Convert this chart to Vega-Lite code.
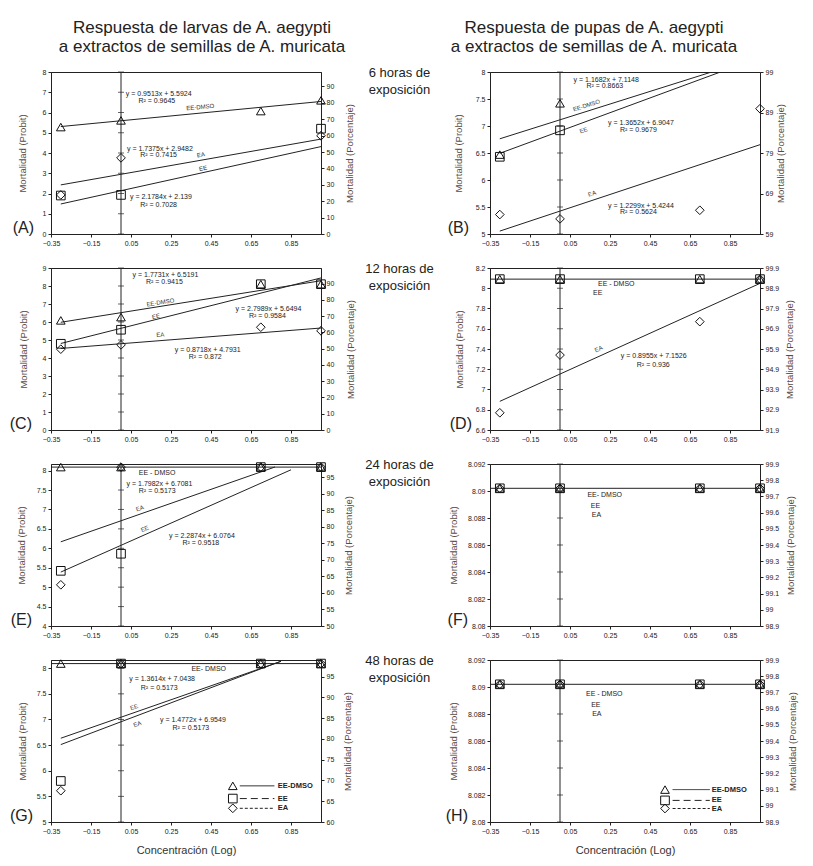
{
"$schema": "https://vega.github.io/schema/vega-lite/v6.json",
"background": "white",
"padding": {"left": 9, "top": 18, "right": 5, "bottom": 5},
"columns": 3,
"bounds": "flush",
"align": "each",
"spacing": {"row": 34, "column": 54},
"datasets": {
"yt": [
{"p":"A","y":0},{"p":"A","y":1},{"p":"A","y":2},{"p":"A","y":3},{"p":"A","y":4},{"p":"A","y":5},{"p":"A","y":6},{"p":"A","y":7},{"p":"A","y":8},
{"p":"B","y":5},{"p":"B","y":5.5},{"p":"B","y":6},{"p":"B","y":6.5},{"p":"B","y":7},{"p":"B","y":7.5},{"p":"B","y":8},
{"p":"C","y":0},{"p":"C","y":1},{"p":"C","y":2},{"p":"C","y":3},{"p":"C","y":4},{"p":"C","y":5},{"p":"C","y":6},{"p":"C","y":7},{"p":"C","y":8},{"p":"C","y":9},
{"p":"D","y":6.6},{"p":"D","y":6.8},{"p":"D","y":7},{"p":"D","y":7.2},{"p":"D","y":7.4},{"p":"D","y":7.6},{"p":"D","y":7.8},{"p":"D","y":8},{"p":"D","y":8.2},
{"p":"E","y":4},{"p":"E","y":4.5},{"p":"E","y":5},{"p":"E","y":5.5},{"p":"E","y":6},{"p":"E","y":6.5},{"p":"E","y":7},{"p":"E","y":7.5},{"p":"E","y":8},
{"p":"F","y":8.08},{"p":"F","y":8.082},{"p":"F","y":8.084},{"p":"F","y":8.086},{"p":"F","y":8.088},{"p":"F","y":8.09},{"p":"F","y":8.092},
{"p":"G","y":5},{"p":"G","y":5.5},{"p":"G","y":6},{"p":"G","y":6.5},{"p":"G","y":7},{"p":"G","y":7.5},{"p":"G","y":8},
{"p":"H","y":8.08},{"p":"H","y":8.082},{"p":"H","y":8.084},{"p":"H","y":8.086},{"p":"H","y":8.088},{"p":"H","y":8.09},{"p":"H","y":8.092}
],
"pts": [
{"p":"A","s":"EE-DMSO","x":-0.301,"y":5.28},{"p":"A","s":"EE-DMSO","x":0,"y":5.61},{"p":"A","s":"EE-DMSO","x":0.699,"y":6.07},{"p":"A","s":"EE-DMSO","x":1,"y":6.6},
{"p":"A","s":"EE","x":-0.301,"y":1.9},{"p":"A","s":"EE","x":0,"y":1.93},{"p":"A","s":"EE","x":1,"y":5.2},
{"p":"A","s":"EA","x":-0.301,"y":1.93},{"p":"A","s":"EA","x":0,"y":3.76},{"p":"A","s":"EA","x":1,"y":4.85},
{"p":"B","s":"EE-DMSO","x":-0.301,"y":6.47},{"p":"B","s":"EE-DMSO","x":0,"y":7.42},
{"p":"B","s":"EE","x":-0.301,"y":6.43},{"p":"B","s":"EE","x":0,"y":6.92},
{"p":"B","s":"EA","x":-0.301,"y":5.36},{"p":"B","s":"EA","x":0,"y":5.28},{"p":"B","s":"EA","x":0.699,"y":5.44},{"p":"B","s":"EA","x":1,"y":7.32},
{"p":"C","s":"EE-DMSO","x":-0.301,"y":6.09},{"p":"C","s":"EE-DMSO","x":0,"y":6.27},{"p":"C","s":"EE-DMSO","x":0.699,"y":8.1},{"p":"C","s":"EE-DMSO","x":1,"y":8.1},
{"p":"C","s":"EE","x":-0.301,"y":4.79},{"p":"C","s":"EE","x":0,"y":5.57},{"p":"C","s":"EE","x":0.699,"y":8.1},{"p":"C","s":"EE","x":1,"y":8.1},
{"p":"C","s":"EA","x":-0.301,"y":4.49},{"p":"C","s":"EA","x":0,"y":4.73},{"p":"C","s":"EA","x":0.699,"y":5.71},{"p":"C","s":"EA","x":1,"y":5.51},
{"p":"D","s":"EE-DMSO","x":-0.301,"y":8.09},{"p":"D","s":"EE-DMSO","x":0,"y":8.09},{"p":"D","s":"EE-DMSO","x":0.699,"y":8.09},{"p":"D","s":"EE-DMSO","x":1,"y":8.09},
{"p":"D","s":"EE","x":-0.301,"y":8.09},{"p":"D","s":"EE","x":0,"y":8.09},{"p":"D","s":"EE","x":0.699,"y":8.09},{"p":"D","s":"EE","x":1,"y":8.09},
{"p":"D","s":"EA","x":-0.301,"y":6.77},{"p":"D","s":"EA","x":0,"y":7.34},{"p":"D","s":"EA","x":0.699,"y":7.67},{"p":"D","s":"EA","x":1,"y":8.09},
{"p":"E","s":"EE-DMSO","x":-0.301,"y":8.09},{"p":"E","s":"EE-DMSO","x":0,"y":8.09},{"p":"E","s":"EE-DMSO","x":0.699,"y":8.09},{"p":"E","s":"EE-DMSO","x":1,"y":8.09},
{"p":"E","s":"EE","x":-0.301,"y":5.42},{"p":"E","s":"EE","x":0,"y":5.86},{"p":"E","s":"EE","x":0.699,"y":8.09},{"p":"E","s":"EE","x":1,"y":8.09},
{"p":"E","s":"EA","x":-0.301,"y":5.06},{"p":"E","s":"EA","x":0,"y":8.09},{"p":"E","s":"EA","x":0.699,"y":8.09},{"p":"E","s":"EA","x":1,"y":8.09},
{"p":"F","s":"EE-DMSO","x":-0.301,"y":8.0902},{"p":"F","s":"EE-DMSO","x":0,"y":8.0902},{"p":"F","s":"EE-DMSO","x":0.699,"y":8.0902},{"p":"F","s":"EE-DMSO","x":1,"y":8.0902},
{"p":"F","s":"EE","x":-0.301,"y":8.0902},{"p":"F","s":"EE","x":0,"y":8.0902},{"p":"F","s":"EE","x":0.699,"y":8.0902},{"p":"F","s":"EE","x":1,"y":8.0902},
{"p":"F","s":"EA","x":-0.301,"y":8.0902},{"p":"F","s":"EA","x":0,"y":8.0902},{"p":"F","s":"EA","x":0.699,"y":8.0902},{"p":"F","s":"EA","x":1,"y":8.0902},
{"p":"G","s":"EE-DMSO","x":-0.301,"y":8.09},{"p":"G","s":"EE-DMSO","x":0,"y":8.09},{"p":"G","s":"EE-DMSO","x":0.699,"y":8.09},{"p":"G","s":"EE-DMSO","x":1,"y":8.09},
{"p":"G","s":"EE","x":-0.301,"y":5.8},{"p":"G","s":"EE","x":0,"y":8.09},{"p":"G","s":"EE","x":0.699,"y":8.09},{"p":"G","s":"EE","x":1,"y":8.09},
{"p":"G","s":"EA","x":-0.301,"y":5.61},{"p":"G","s":"EA","x":0,"y":8.09},{"p":"G","s":"EA","x":0.699,"y":8.09},{"p":"G","s":"EA","x":1,"y":8.09},
{"p":"H","s":"EE-DMSO","x":-0.301,"y":8.0902},{"p":"H","s":"EE-DMSO","x":0,"y":8.0902},{"p":"H","s":"EE-DMSO","x":0.699,"y":8.0902},{"p":"H","s":"EE-DMSO","x":1,"y":8.0902},
{"p":"H","s":"EE","x":-0.301,"y":8.0902},{"p":"H","s":"EE","x":0,"y":8.0902},{"p":"H","s":"EE","x":0.699,"y":8.0902},{"p":"H","s":"EE","x":1,"y":8.0902},
{"p":"H","s":"EA","x":-0.301,"y":8.0902},{"p":"H","s":"EA","x":0,"y":8.0902},{"p":"H","s":"EA","x":0.699,"y":8.0902},{"p":"H","s":"EA","x":1,"y":8.0902}
],
"lines": [
{"p":"A","s":"EE-DMSO","x":-0.301,"y":5.306},{"p":"A","s":"EE-DMSO","x":1,"y":6.544},
{"p":"A","s":"EE","x":-0.301,"y":1.483},{"p":"A","s":"EE","x":1,"y":4.317},
{"p":"A","s":"EA","x":-0.301,"y":2.425},{"p":"A","s":"EA","x":1,"y":4.686},
{"p":"B","s":"EE-DMSO","x":-0.301,"y":6.763},{"p":"B","s":"EE-DMSO","x":1,"y":8.283},
{"p":"B","s":"EE","x":-0.301,"y":6.494},{"p":"B","s":"EE","x":1,"y":8.27},
{"p":"B","s":"EA","x":-0.301,"y":5.054},{"p":"B","s":"EA","x":1,"y":6.654},
{"p":"C","s":"EE-DMSO","x":-0.301,"y":5.985},{"p":"C","s":"EE-DMSO","x":1,"y":8.292},
{"p":"C","s":"EE","x":-0.301,"y":4.807},{"p":"C","s":"EE","x":1,"y":8.448},
{"p":"C","s":"EA","x":-0.301,"y":4.531},{"p":"C","s":"EA","x":1,"y":5.665},
{"p":"D","s":"EE-DMSO","x":-0.35,"y":8.09},{"p":"D","s":"EE-DMSO","x":1,"y":8.09},
{"p":"D","s":"EA","x":-0.301,"y":6.883},{"p":"D","s":"EA","x":1,"y":8.048},
{"p":"E","s":"EE-DMSO","x":-0.35,"y":8.09},{"p":"E","s":"EE-DMSO","x":1,"y":8.09},
{"p":"E","s":"EA","x":-0.301,"y":6.167},{"p":"E","s":"EA","x":0.77,"y":8.093},
{"p":"E","s":"EE","x":-0.301,"y":5.388},{"p":"E","s":"EE","x":0.85,"y":8.021},
{"p":"F","s":"EE-DMSO","x":-0.35,"y":8.0902},{"p":"F","s":"EE-DMSO","x":1,"y":8.0902},
{"p":"G","s":"EE-DMSO","x":-0.35,"y":8.09},{"p":"G","s":"EE-DMSO","x":1,"y":8.09},
{"p":"G","s":"EE","x":-0.301,"y":6.634},{"p":"G","s":"EE","x":0.8,"y":8.133},
{"p":"G","s":"EA","x":-0.301,"y":6.51},{"p":"G","s":"EA","x":0.8,"y":8.137},
{"p":"H","s":"EE-DMSO","x":-0.35,"y":8.0902},{"p":"H","s":"EE-DMSO","x":1,"y":8.0902}
],
"eq": [
{"p":"A","x":0.024,"y":6.93,"t":"y = 0.9513x + 5.5924"},{"p":"A","x":0.087,"y":6.55,"t":"R² = 0.9645"},
{"p":"A","x":0.03,"y":4.21,"t":"y = 1.7375x + 2.9482"},{"p":"A","x":0.096,"y":3.88,"t":"R² = 0.7415"},
{"p":"A","x":0.045,"y":1.82,"t":"y = 2.1784x + 2.139"},{"p":"A","x":0.096,"y":1.45,"t":"R² = 0.7028"},
{"p":"B","x":0.068,"y":7.86,"t":"y = 1.1682x + 7.1148"},{"p":"B","x":0.132,"y":7.75,"t":"R² = 0.8663"},
{"p":"B","x":0.24,"y":7.05,"t":"y = 1.3652x + 6.9047"},{"p":"B","x":0.3,"y":6.92,"t":"R² = 0.9679"},
{"p":"B","x":0.24,"y":5.52,"t":"y = 1.2299x + 5.4244"},{"p":"B","x":0.3,"y":5.41,"t":"R² = 0.5624"},
{"p":"C","x":0.058,"y":8.63,"t":"y = 1.7731x + 6.5191"},{"p":"C","x":0.125,"y":8.22,"t":"R² = 0.9415"},
{"p":"C","x":0.573,"y":6.73,"t":"y = 2.7989x + 5.6494"},{"p":"C","x":0.64,"y":6.31,"t":"R² = 0.9584"},
{"p":"C","x":0.269,"y":4.42,"t":"y = 0.8718x + 4.7931"},{"p":"C","x":0.339,"y":4.03,"t":"R² = 0.872"},
{"p":"D","x":0.19,"y":8.046,"t":"EE - DMSO"},{"p":"D","x":0.165,"y":7.95,"t":"EE"},
{"p":"D","x":0.304,"y":7.33,"t":"y = 0.8955x + 7.1526"},{"p":"D","x":0.384,"y":7.24,"t":"R² = 0.936"},
{"p":"E","x":0.089,"y":7.93,"t":"EE - DMSO"},
{"p":"E","x":0.028,"y":7.66,"t":"y = 1.7982x + 6.7081"},{"p":"E","x":0.089,"y":7.47,"t":"R² = 0.5173"},
{"p":"E","x":0.24,"y":6.32,"t":"y = 2.2874x + 6.0764"},{"p":"E","x":0.307,"y":6.14,"t":"R² = 0.9518"},
{"p":"F","x":0.137,"y":8.0897,"t":"EE- DMSO"},{"p":"F","x":0.154,"y":8.0889,"t":"EE"},{"p":"F","x":0.159,"y":8.0882,"t":"EA"},
{"p":"G","x":0.352,"y":7.99,"t":"EE- DMSO"},
{"p":"G","x":0.041,"y":7.79,"t":"y = 1.3614x + 7.0438"},{"p":"G","x":0.099,"y":7.62,"t":"R² = 0.5173"},
{"p":"G","x":0.195,"y":6.99,"t":"y = 1.4772x + 6.9549"},{"p":"G","x":0.257,"y":6.83,"t":"R² = 0.5173"},
{"p":"H","x":0.13,"y":8.0895,"t":"EE - DMSO"},{"p":"H","x":0.156,"y":8.0887,"t":"EE"},{"p":"H","x":0.161,"y":8.088,"t":"EA"}
],
"lab": [
{"p":"A","s":"EE-DMSO","x":0.396,"y":6.27},{"p":"A","s":"EA","x":0.399,"y":3.91},{"p":"A","s":"EE","x":0.41,"y":3.25},
{"p":"B","s":"EE-DMSO","x":0.132,"y":7.38},{"p":"B","s":"EE","x":0.118,"y":6.92},{"p":"B","s":"EA","x":0.16,"y":5.75},
{"p":"C","s":"EE-DMSO","x":0.197,"y":7.09},{"p":"C","s":"EE","x":0.175,"y":6.31},{"p":"C","s":"EA","x":0.197,"y":5.29},
{"p":"D","s":"EA","x":0.193,"y":7.4},
{"p":"E","s":"EA","x":0.094,"y":7.03},{"p":"E","s":"EE","x":0.119,"y":6.5},
{"p":"G","s":"EE","x":0.066,"y":7.24},{"p":"G","s":"EA","x":0.082,"y":6.91}
],
"leg": [
{"p":"G","s":"EE-DMSO","xs":0.559,"x1":0.594,"x2":0.767,"xt":0.784,"y":5.705},
{"p":"G","s":"EE","xs":0.559,"x1":0.594,"x2":0.767,"xt":0.784,"y":5.457},
{"p":"G","s":"EA","xs":0.559,"x1":0.594,"x2":0.767,"xt":0.784,"y":5.267},
{"p":"H","s":"EE-DMSO","xs":0.525,"x1":0.563,"x2":0.749,"xt":0.759,"y":8.0824},
{"p":"H","s":"EE","xs":0.525,"x1":0.563,"x2":0.749,"xt":0.759,"y":8.0816},
{"p":"H","s":"EA","xs":0.525,"x1":0.563,"x2":0.749,"xt":0.759,"y":8.081}
]
},
"concat": [
{
"width": 270, "height": 162,
"title": {"text": ["Respuesta de larvas de A. aegypti", "a extractos de semillas de A. muricata"], "dx": 16},
"resolve": {"scale": {"y": "independent"}},
"layer": [
{"data": {"values": [{}]}, "mark": {"type": "rule", "color": "#222"}, "encoding": {"x": {"datum": 0, "type": "quantitative", "scale": {"domain": [-0.35, 1], "nice": false, "zero": false}, "axis": {"values": [-0.35, -0.15, 0.05, 0.25, 0.45, 0.65, 0.85], "format": ".2f", "title": null}}}},
{"encoding": {"y": {"field": "y", "type": "quantitative", "scale": {"domain": [0, 8], "nice": false, "zero": false}, "axis": {"values": [0,1,2,3,4,5,6,7,8], "format": "d", "labelOverlap": false, "title": "Mortalidad (Probit)", "titlePadding": 14.5}}},
"layer": [
{"data": {"name": "yt"}, "transform": [{"filter": "datum.p == 'A'"}], "mark": {"type": "tick", "orient": "horizontal", "size": 6, "thickness": 1, "color": "#222"}, "encoding": {"x": {"datum": 0, "type": "quantitative"}}},
{"data": {"name": "lines"}, "transform": [{"filter": "datum.p == 'A'"}], "mark": {"type": "line", "color": "#222", "strokeWidth": 1, "clip": true}, "encoding": {"x": {"field": "x", "type": "quantitative"}, "detail": {"field": "s", "type": "nominal"}}},
{"data": {"name": "pts"}, "transform": [{"filter": "datum.p == 'A'"}], "mark": {"type": "point", "filled": false, "color": "#111", "opacity": 1, "size": 75, "strokeWidth": 1}, "encoding": {"x": {"field": "x", "type": "quantitative"}, "shape": {"field": "s", "type": "nominal", "scale": {"domain": ["EE-DMSO", "EE", "EA"], "range": ["triangle-up", "square", "diamond"]}, "legend": null}}},
{"data": {"name": "eq"}, "transform": [{"filter": "datum.p == 'A'"}], "mark": {"type": "text", "align": "left", "baseline": "middle", "fontSize": 7, "color": "#222"}, "encoding": {"x": {"field": "x", "type": "quantitative"}, "text": {"field": "t"}}},
{"data": {"name": "lab"}, "transform": [{"filter": "datum.p == 'A' && datum.s == 'EE-DMSO'"}], "mark": {"type": "text", "baseline": "middle", "fontSize": 6, "color": "#333", "angle": 354.5}, "encoding": {"x": {"field": "x", "type": "quantitative"}, "text": {"field": "s"}}},
{"data": {"name": "lab"}, "transform": [{"filter": "datum.p == 'A' && datum.s == 'EA'"}], "mark": {"type": "text", "baseline": "middle", "fontSize": 6, "color": "#333", "angle": 350}, "encoding": {"x": {"field": "x", "type": "quantitative"}, "text": {"field": "s"}}},
{"data": {"name": "lab"}, "transform": [{"filter": "datum.p == 'A' && datum.s == 'EE'"}], "mark": {"type": "text", "baseline": "middle", "fontSize": 6, "color": "#333", "angle": 347.6}, "encoding": {"x": {"field": "x", "type": "quantitative"}, "text": {"field": "s"}}},
{"data": {"name": "yt"}, "transform": [{"filter": "datum.p == 'A'"}, {"aggregate": [{"op": "min", "field": "y", "as": "y"}]}], "mark": {"type": "text", "fontSize": 16, "align": "right", "baseline": "alphabetic", "dx": -17, "dy": -1, "color": "#222"}, "encoding": {"x": {"datum": -0.35, "type": "quantitative"}, "text": {"value": "(A)"}}}
]},
{"data": {"values": [{}]}, "mark": {"type": "rule", "opacity": 0}, "encoding": {"y": {"datum": 50, "type": "quantitative", "scale": {"domain": [0, 98.8], "nice": false, "zero": false}, "axis": {"orient": "right", "values": [0,10,20,30,40,50,60,70,80,90], "format": "d", "labelOverlap": false, "title": "Mortalidad (Porcentaje)", "titleAngle": 270, "titleBaseline": "top", "titlePadding": 11}}}}
]
},
{"width": 61, "height": 2, "view": {"stroke": null}, "data": {"values": [{"t": "6 horas de\nexposición"}]}, "mark": {"type": "text", "fontSize": 13, "lineBreak": "\n", "lineHeight": 17, "dx": -6, "color": "#222"}, "encoding": {"text": {"field": "t"}}},
{
"width": 270, "height": 162,
"title": {"text": ["Respuesta de pupas de A. aegypti", "a extractos de semillas de A. muricata"], "dx": -31},
"resolve": {"scale": {"y": "independent"}},
"layer": [
{"data": {"values": [{}]}, "mark": {"type": "rule", "color": "#222"}, "encoding": {"x": {"datum": 0, "type": "quantitative", "scale": {"domain": [-0.35, 1], "nice": false, "zero": false}, "axis": {"values": [-0.35, -0.15, 0.05, 0.25, 0.45, 0.65, 0.85], "format": ".2f", "title": null}}}},
{"encoding": {"y": {"field": "y", "type": "quantitative", "scale": {"domain": [5, 8], "nice": false, "zero": false}, "axis": {"values": [5,5.5,6,6.5,7,7.5,8], "format": ".1~f", "labelOverlap": false, "title": "Mortalidad (Probit)", "titlePadding": 11.5}}},
"layer": [
{"data": {"name": "yt"}, "transform": [{"filter": "datum.p == 'B'"}], "mark": {"type": "tick", "orient": "horizontal", "size": 6, "thickness": 1, "color": "#222"}, "encoding": {"x": {"datum": 0, "type": "quantitative"}}},
{"data": {"name": "lines"}, "transform": [{"filter": "datum.p == 'B'"}], "mark": {"type": "line", "color": "#222", "strokeWidth": 1, "clip": true}, "encoding": {"x": {"field": "x", "type": "quantitative"}, "detail": {"field": "s", "type": "nominal"}}},
{"data": {"name": "pts"}, "transform": [{"filter": "datum.p == 'B'"}], "mark": {"type": "point", "filled": false, "color": "#111", "opacity": 1, "size": 75, "strokeWidth": 1}, "encoding": {"x": {"field": "x", "type": "quantitative"}, "shape": {"field": "s", "type": "nominal", "scale": {"domain": ["EE-DMSO", "EE", "EA"], "range": ["triangle-up", "square", "diamond"]}, "legend": null}}},
{"data": {"name": "eq"}, "transform": [{"filter": "datum.p == 'B'"}], "mark": {"type": "text", "align": "left", "baseline": "middle", "fontSize": 7, "color": "#222"}, "encoding": {"x": {"field": "x", "type": "quantitative"}, "text": {"field": "t"}}},
{"data": {"name": "lab"}, "transform": [{"filter": "datum.p == 'B' && datum.s == 'EE-DMSO'"}], "mark": {"type": "text", "baseline": "middle", "fontSize": 6, "color": "#333", "angle": 342.4}, "encoding": {"x": {"field": "x", "type": "quantitative"}, "text": {"field": "s"}}},
{"data": {"name": "lab"}, "transform": [{"filter": "datum.p == 'B' && datum.s == 'EE'"}], "mark": {"type": "text", "baseline": "middle", "fontSize": 6, "color": "#333", "angle": 339.7}, "encoding": {"x": {"field": "x", "type": "quantitative"}, "text": {"field": "s"}}},
{"data": {"name": "lab"}, "transform": [{"filter": "datum.p == 'B' && datum.s == 'EA'"}], "mark": {"type": "text", "baseline": "middle", "fontSize": 6, "color": "#333", "angle": 341.5}, "encoding": {"x": {"field": "x", "type": "quantitative"}, "text": {"field": "s"}}},
{"data": {"name": "yt"}, "transform": [{"filter": "datum.p == 'B'"}, {"aggregate": [{"op": "min", "field": "y", "as": "y"}]}], "mark": {"type": "text", "fontSize": 16, "align": "right", "baseline": "alphabetic", "dx": -21, "dy": -1, "color": "#222"}, "encoding": {"x": {"datum": -0.35, "type": "quantitative"}, "text": {"value": "(B)"}}}
]},
{"data": {"values": [{}]}, "mark": {"type": "rule", "opacity": 0}, "encoding": {"y": {"datum": 79, "type": "quantitative", "scale": {"domain": [59, 99], "nice": false, "zero": false}, "axis": {"orient": "right", "values": [59,69,79,89,99], "format": "d", "labelOverlap": false, "title": "Mortalidad (Porcentaje)", "titleAngle": 270, "titleBaseline": "top", "titlePadding": 3}}}}
]
},
{
"width": 270, "height": 162,
"resolve": {"scale": {"y": "independent"}},
"layer": [
{"data": {"values": [{}]}, "mark": {"type": "rule", "color": "#222"}, "encoding": {"x": {"datum": 0, "type": "quantitative", "scale": {"domain": [-0.35, 1], "nice": false, "zero": false}, "axis": {"values": [-0.35, -0.15, 0.05, 0.25, 0.45, 0.65, 0.85], "format": ".2f", "title": null}}}},
{"encoding": {"y": {"field": "y", "type": "quantitative", "scale": {"domain": [0, 9], "nice": false, "zero": false}, "axis": {"values": [0,1,2,3,4,5,6,7,8,9], "format": "d", "labelOverlap": false, "title": "Mortalidad (Probit)", "titlePadding": 14}}},
"layer": [
{"data": {"name": "yt"}, "transform": [{"filter": "datum.p == 'C'"}], "mark": {"type": "tick", "orient": "horizontal", "size": 6, "thickness": 1, "color": "#222"}, "encoding": {"x": {"datum": 0, "type": "quantitative"}}},
{"data": {"name": "lines"}, "transform": [{"filter": "datum.p == 'C'"}], "mark": {"type": "line", "color": "#222", "strokeWidth": 1, "clip": true}, "encoding": {"x": {"field": "x", "type": "quantitative"}, "detail": {"field": "s", "type": "nominal"}}},
{"data": {"name": "pts"}, "transform": [{"filter": "datum.p == 'C'"}], "mark": {"type": "point", "filled": false, "color": "#111", "opacity": 1, "size": 75, "strokeWidth": 1}, "encoding": {"x": {"field": "x", "type": "quantitative"}, "shape": {"field": "s", "type": "nominal", "scale": {"domain": ["EE-DMSO", "EE", "EA"], "range": ["triangle-up", "square", "diamond"]}, "legend": null}}},
{"data": {"name": "eq"}, "transform": [{"filter": "datum.p == 'C'"}], "mark": {"type": "text", "align": "left", "baseline": "middle", "fontSize": 7, "color": "#222"}, "encoding": {"x": {"field": "x", "type": "quantitative"}, "text": {"field": "t"}}},
{"data": {"name": "lab"}, "transform": [{"filter": "datum.p == 'C' && datum.s == 'EE-DMSO'"}], "mark": {"type": "text", "baseline": "middle", "fontSize": 6, "color": "#333", "angle": 351}, "encoding": {"x": {"field": "x", "type": "quantitative"}, "text": {"field": "s"}}},
{"data": {"name": "lab"}, "transform": [{"filter": "datum.p == 'C' && datum.s == 'EE'"}], "mark": {"type": "text", "baseline": "middle", "fontSize": 6, "color": "#333", "angle": 346}, "encoding": {"x": {"field": "x", "type": "quantitative"}, "text": {"field": "s"}}},
{"data": {"name": "lab"}, "transform": [{"filter": "datum.p == 'C' && datum.s == 'EA'"}], "mark": {"type": "text", "baseline": "middle", "fontSize": 6, "color": "#333", "angle": 355.5}, "encoding": {"x": {"field": "x", "type": "quantitative"}, "text": {"field": "s"}}},
{"data": {"name": "yt"}, "transform": [{"filter": "datum.p == 'C'"}, {"aggregate": [{"op": "min", "field": "y", "as": "y"}]}], "mark": {"type": "text", "fontSize": 16, "align": "right", "baseline": "alphabetic", "dx": -19, "dy": -1, "color": "#222"}, "encoding": {"x": {"datum": -0.35, "type": "quantitative"}, "text": {"value": "(C)"}}}
]},
{"data": {"values": [{}]}, "mark": {"type": "rule", "opacity": 0}, "encoding": {"y": {"datum": 50, "type": "quantitative", "scale": {"domain": [0, 99.6], "nice": false, "zero": false}, "axis": {"orient": "right", "values": [0,10,20,30,40,50,60,70,80,90], "format": "d", "labelOverlap": false, "title": "Mortalidad (Porcentaje)", "titleAngle": 270, "titleBaseline": "top", "titlePadding": 11.5}}}}
]
},
{"width": 61, "height": 2, "view": {"stroke": null}, "data": {"values": [{"t": "12 horas de\nexposición"}]}, "mark": {"type": "text", "fontSize": 13, "lineBreak": "\n", "lineHeight": 17, "dx": -6, "color": "#222"}, "encoding": {"text": {"field": "t"}}},
{
"width": 270, "height": 162,
"resolve": {"scale": {"y": "independent"}},
"layer": [
{"data": {"values": [{}]}, "mark": {"type": "rule", "color": "#222"}, "encoding": {"x": {"datum": 0, "type": "quantitative", "scale": {"domain": [-0.35, 1], "nice": false, "zero": false}, "axis": {"values": [-0.35, -0.15, 0.05, 0.25, 0.45, 0.65, 0.85], "format": ".2f", "title": null}}}},
{"encoding": {"y": {"field": "y", "type": "quantitative", "scale": {"domain": [6.6, 8.2], "nice": false, "zero": false}, "axis": {"values": [6.6,6.8,7,7.2,7.4,7.6,7.8,8,8.2], "format": ".1~f", "labelOverlap": false, "title": "Mortalidad (Probit)", "titlePadding": 10.5}}},
"layer": [
{"data": {"name": "yt"}, "transform": [{"filter": "datum.p == 'D'"}], "mark": {"type": "tick", "orient": "horizontal", "size": 6, "thickness": 1, "color": "#222"}, "encoding": {"x": {"datum": 0, "type": "quantitative"}}},
{"data": {"name": "lines"}, "transform": [{"filter": "datum.p == 'D'"}], "mark": {"type": "line", "color": "#222", "strokeWidth": 1, "clip": true}, "encoding": {"x": {"field": "x", "type": "quantitative"}, "detail": {"field": "s", "type": "nominal"}}},
{"data": {"name": "pts"}, "transform": [{"filter": "datum.p == 'D'"}], "mark": {"type": "point", "filled": false, "color": "#111", "opacity": 1, "size": 75, "strokeWidth": 1}, "encoding": {"x": {"field": "x", "type": "quantitative"}, "shape": {"field": "s", "type": "nominal", "scale": {"domain": ["EE-DMSO", "EE", "EA"], "range": ["triangle-up", "square", "diamond"]}, "legend": null}}},
{"data": {"name": "eq"}, "transform": [{"filter": "datum.p == 'D'"}], "mark": {"type": "text", "align": "left", "baseline": "middle", "fontSize": 7, "color": "#222"}, "encoding": {"x": {"field": "x", "type": "quantitative"}, "text": {"field": "t"}}},
{"data": {"name": "lab"}, "transform": [{"filter": "datum.p == 'D' && datum.s == 'EA'"}], "mark": {"type": "text", "baseline": "middle", "fontSize": 6, "color": "#333", "angle": 335.2}, "encoding": {"x": {"field": "x", "type": "quantitative"}, "text": {"field": "s"}}},
{"data": {"name": "yt"}, "transform": [{"filter": "datum.p == 'D'"}, {"aggregate": [{"op": "min", "field": "y", "as": "y"}]}], "mark": {"type": "text", "fontSize": 16, "align": "right", "baseline": "alphabetic", "dx": -18, "dy": -1, "color": "#222"}, "encoding": {"x": {"datum": -0.35, "type": "quantitative"}, "text": {"value": "(D)"}}}
]},
{"data": {"values": [{}]}, "mark": {"type": "rule", "opacity": 0}, "encoding": {"y": {"datum": 95, "type": "quantitative", "scale": {"domain": [91.9, 99.9], "nice": false, "zero": false}, "axis": {"orient": "right", "values": [91.9,92.9,93.9,94.9,95.9,96.9,97.9,98.9,99.9], "format": ".1f", "labelOverlap": false, "title": "Mortalidad (Porcentaje)", "titleAngle": 270, "titleBaseline": "top", "titlePadding": 5.5}}}}
]
},
{
"width": 270, "height": 162,
"resolve": {"scale": {"y": "independent"}},
"layer": [
{"data": {"values": [{}]}, "mark": {"type": "rule", "color": "#222"}, "encoding": {"x": {"datum": 0, "type": "quantitative", "scale": {"domain": [-0.35, 1], "nice": false, "zero": false}, "axis": {"values": [-0.35, -0.15, 0.05, 0.25, 0.45, 0.65, 0.85], "format": ".2f", "title": null}}}},
{"encoding": {"y": {"field": "y", "type": "quantitative", "scale": {"domain": [4, 8.17], "nice": false, "zero": false}, "axis": {"values": [4,4.5,5,5.5,6,6.5,7,7.5,8], "format": ".1~f", "labelOverlap": false, "title": "Mortalidad (Probit)", "titlePadding": 10}}},
"layer": [
{"data": {"name": "yt"}, "transform": [{"filter": "datum.p == 'E'"}], "mark": {"type": "tick", "orient": "horizontal", "size": 6, "thickness": 1, "color": "#222"}, "encoding": {"x": {"datum": 0, "type": "quantitative"}}},
{"data": {"name": "lines"}, "transform": [{"filter": "datum.p == 'E'"}], "mark": {"type": "line", "color": "#222", "strokeWidth": 1, "clip": true}, "encoding": {"x": {"field": "x", "type": "quantitative"}, "detail": {"field": "s", "type": "nominal"}}},
{"data": {"name": "pts"}, "transform": [{"filter": "datum.p == 'E'"}], "mark": {"type": "point", "filled": false, "color": "#111", "opacity": 1, "size": 75, "strokeWidth": 1}, "encoding": {"x": {"field": "x", "type": "quantitative"}, "shape": {"field": "s", "type": "nominal", "scale": {"domain": ["EE-DMSO", "EE", "EA"], "range": ["triangle-up", "square", "diamond"]}, "legend": null}}},
{"data": {"name": "eq"}, "transform": [{"filter": "datum.p == 'E'"}], "mark": {"type": "text", "align": "left", "baseline": "middle", "fontSize": 7, "color": "#222"}, "encoding": {"x": {"field": "x", "type": "quantitative"}, "text": {"field": "t"}}},
{"data": {"name": "lab"}, "transform": [{"filter": "datum.p == 'E' && datum.s == 'EA'"}], "mark": {"type": "text", "baseline": "middle", "fontSize": 6, "color": "#333", "angle": 340.5}, "encoding": {"x": {"field": "x", "type": "quantitative"}, "text": {"field": "s"}}},
{"data": {"name": "lab"}, "transform": [{"filter": "datum.p == 'E' && datum.s == 'EE'"}], "mark": {"type": "text", "baseline": "middle", "fontSize": 6, "color": "#333", "angle": 335.7}, "encoding": {"x": {"field": "x", "type": "quantitative"}, "text": {"field": "s"}}},
{"data": {"name": "yt"}, "transform": [{"filter": "datum.p == 'E'"}, {"aggregate": [{"op": "min", "field": "y", "as": "y"}]}], "mark": {"type": "text", "fontSize": 16, "align": "right", "baseline": "alphabetic", "dx": -19, "dy": -1, "color": "#222"}, "encoding": {"x": {"datum": -0.35, "type": "quantitative"}, "text": {"value": "(E)"}}}
]},
{"data": {"values": [{}]}, "mark": {"type": "rule", "opacity": 0}, "encoding": {"y": {"datum": 75, "type": "quantitative", "scale": {"domain": [50, 99], "nice": false, "zero": false}, "axis": {"orient": "right", "values": [50,55,60,65,70,75,80,85,90,95], "format": "d", "labelOverlap": false, "title": "Mortalidad (Porcentaje)", "titleAngle": 270, "titleBaseline": "top", "titlePadding": 10}}}}
]
},
{"width": 61, "height": 2, "view": {"stroke": null}, "data": {"values": [{"t": "24 horas de\nexposición"}]}, "mark": {"type": "text", "fontSize": 13, "lineBreak": "\n", "lineHeight": 17, "dx": -6, "color": "#222"}, "encoding": {"text": {"field": "t"}}},
{
"width": 270, "height": 162,
"resolve": {"scale": {"y": "independent"}},
"layer": [
{"data": {"values": [{}]}, "mark": {"type": "rule", "color": "#222"}, "encoding": {"x": {"datum": 0, "type": "quantitative", "scale": {"domain": [-0.35, 1], "nice": false, "zero": false}, "axis": {"values": [-0.35, -0.15, 0.05, 0.25, 0.45, 0.65, 0.85], "format": ".2f", "title": null}}}},
{"encoding": {"y": {"field": "y", "type": "quantitative", "scale": {"domain": [8.08, 8.092], "nice": false, "zero": false}, "axis": {"values": [8.08,8.082,8.084,8.086,8.088,8.09,8.092], "format": ".3~f", "labelOverlap": false, "title": "Mortalidad (Probit)", "titlePadding": 9}}},
"layer": [
{"data": {"name": "yt"}, "transform": [{"filter": "datum.p == 'F'"}], "mark": {"type": "tick", "orient": "horizontal", "size": 6, "thickness": 1, "color": "#222"}, "encoding": {"x": {"datum": 0, "type": "quantitative"}}},
{"data": {"name": "lines"}, "transform": [{"filter": "datum.p == 'F'"}], "mark": {"type": "line", "color": "#222", "strokeWidth": 1, "clip": true}, "encoding": {"x": {"field": "x", "type": "quantitative"}, "detail": {"field": "s", "type": "nominal"}}},
{"data": {"name": "pts"}, "transform": [{"filter": "datum.p == 'F'"}], "mark": {"type": "point", "filled": false, "color": "#111", "opacity": 1, "size": 75, "strokeWidth": 1}, "encoding": {"x": {"field": "x", "type": "quantitative"}, "shape": {"field": "s", "type": "nominal", "scale": {"domain": ["EE-DMSO", "EE", "EA"], "range": ["triangle-up", "square", "diamond"]}, "legend": null}}},
{"data": {"name": "eq"}, "transform": [{"filter": "datum.p == 'F'"}], "mark": {"type": "text", "align": "left", "baseline": "middle", "fontSize": 7, "color": "#222"}, "encoding": {"x": {"field": "x", "type": "quantitative"}, "text": {"field": "t"}}},
{"data": {"name": "yt"}, "transform": [{"filter": "datum.p == 'F'"}, {"aggregate": [{"op": "min", "field": "y", "as": "y"}]}], "mark": {"type": "text", "fontSize": 16, "align": "right", "baseline": "alphabetic", "dx": -22, "dy": -1, "color": "#222"}, "encoding": {"x": {"datum": -0.35, "type": "quantitative"}, "text": {"value": "(F)"}}}
]},
{"data": {"values": [{}]}, "mark": {"type": "rule", "opacity": 0}, "encoding": {"y": {"datum": 99.4, "type": "quantitative", "scale": {"domain": [98.9, 99.9], "nice": false, "zero": false}, "axis": {"orient": "right", "values": [98.9,99,99.1,99.2,99.3,99.4,99.5,99.6,99.7,99.8,99.9], "format": ".1~f", "labelOverlap": false, "title": "Mortalidad (Porcentaje)", "titleAngle": 270, "titleBaseline": "top", "titlePadding": 6.5}}}}
]
},
{
"width": 270, "height": 162,
"resolve": {"scale": {"y": "independent"}},
"layer": [
{"data": {"values": [{}]}, "mark": {"type": "rule", "color": "#222"}, "encoding": {"x": {"datum": 0, "type": "quantitative", "scale": {"domain": [-0.35, 1], "nice": false, "zero": false}, "axis": {"values": [-0.35, -0.15, 0.05, 0.25, 0.45, 0.65, 0.85], "format": ".2f", "title": "Concentración (Log)"}}}},
{"encoding": {"y": {"field": "y", "type": "quantitative", "scale": {"domain": [5, 8.16], "nice": false, "zero": false}, "axis": {"values": [5,5.5,6,6.5,7,7.5,8], "format": ".1~f", "labelOverlap": false, "title": "Mortalidad (Probit)", "titlePadding": 9}}},
"layer": [
{"data": {"name": "yt"}, "transform": [{"filter": "datum.p == 'G'"}], "mark": {"type": "tick", "orient": "horizontal", "size": 6, "thickness": 1, "color": "#222"}, "encoding": {"x": {"datum": 0, "type": "quantitative"}}},
{"data": {"name": "lines"}, "transform": [{"filter": "datum.p == 'G'"}], "mark": {"type": "line", "color": "#222", "strokeWidth": 1, "clip": true}, "encoding": {"x": {"field": "x", "type": "quantitative"}, "detail": {"field": "s", "type": "nominal"}}},
{"data": {"name": "pts"}, "transform": [{"filter": "datum.p == 'G'"}], "mark": {"type": "point", "filled": false, "color": "#111", "opacity": 1, "size": 75, "strokeWidth": 1}, "encoding": {"x": {"field": "x", "type": "quantitative"}, "shape": {"field": "s", "type": "nominal", "scale": {"domain": ["EE-DMSO", "EE", "EA"], "range": ["triangle-up", "square", "diamond"]}, "legend": null}}},
{"data": {"name": "eq"}, "transform": [{"filter": "datum.p == 'G'"}], "mark": {"type": "text", "align": "left", "baseline": "middle", "fontSize": 7, "color": "#222"}, "encoding": {"x": {"field": "x", "type": "quantitative"}, "text": {"field": "t"}}},
{"data": {"name": "lab"}, "transform": [{"filter": "datum.p == 'G' && datum.s == 'EE'"}], "mark": {"type": "text", "baseline": "middle", "fontSize": 6, "color": "#333", "angle": 341}, "encoding": {"x": {"field": "x", "type": "quantitative"}, "text": {"field": "s"}}},
{"data": {"name": "lab"}, "transform": [{"filter": "datum.p == 'G' && datum.s == 'EA'"}], "mark": {"type": "text", "baseline": "middle", "fontSize": 6, "color": "#333", "angle": 339.4}, "encoding": {"x": {"field": "x", "type": "quantitative"}, "text": {"field": "s"}}},
{"data": {"name": "leg"}, "transform": [{"filter": "datum.p == 'G'"}], "mark": {"type": "point", "filled": false, "color": "#111", "opacity": 1, "size": 75, "strokeWidth": 1}, "encoding": {"x": {"field": "xs", "type": "quantitative"}, "shape": {"field": "s", "type": "nominal", "scale": {"domain": ["EE-DMSO", "EE", "EA"], "range": ["triangle-up", "square", "diamond"]}, "legend": null}}},
{"data": {"name": "leg"}, "transform": [{"filter": "datum.p == 'G'"}], "mark": {"type": "rule", "color": "#222", "strokeWidth": 1}, "encoding": {"x": {"field": "x1", "type": "quantitative"}, "x2": {"field": "x2"}, "strokeDash": {"field": "s", "type": "nominal", "scale": {"domain": ["EE-DMSO", "EE", "EA"], "range": [[1, 0], [7, 4], [3, 2]]}, "legend": null}}},
{"data": {"name": "leg"}, "transform": [{"filter": "datum.p == 'G'"}], "mark": {"type": "text", "align": "left", "baseline": "middle", "fontSize": 7.5, "fontWeight": "bold", "color": "#222"}, "encoding": {"x": {"field": "xt", "type": "quantitative"}, "text": {"field": "s"}}},
{"data": {"name": "yt"}, "transform": [{"filter": "datum.p == 'G'"}, {"aggregate": [{"op": "min", "field": "y", "as": "y"}]}], "mark": {"type": "text", "fontSize": 16, "align": "right", "baseline": "alphabetic", "dx": -18, "dy": -1, "color": "#222"}, "encoding": {"x": {"datum": -0.35, "type": "quantitative"}, "text": {"value": "(G)"}}}
]},
{"data": {"values": [{}]}, "mark": {"type": "rule", "opacity": 0}, "encoding": {"y": {"datum": 80, "type": "quantitative", "scale": {"domain": [60, 99], "nice": false, "zero": false}, "axis": {"orient": "right", "values": [60,65,70,75,80,85,90,95], "format": "d", "labelOverlap": false, "title": "Mortalidad (Porcentaje)", "titleAngle": 270, "titleBaseline": "top", "titlePadding": 9}}}}
]
},
{"width": 61, "height": 2, "view": {"stroke": null}, "data": {"values": [{"t": "48 horas de\nexposición"}]}, "mark": {"type": "text", "fontSize": 13, "lineBreak": "\n", "lineHeight": 17, "dx": -6, "color": "#222"}, "encoding": {"text": {"field": "t"}}},
{
"width": 270, "height": 162,
"resolve": {"scale": {"y": "independent"}},
"layer": [
{"data": {"values": [{}]}, "mark": {"type": "rule", "color": "#222"}, "encoding": {"x": {"datum": 0, "type": "quantitative", "scale": {"domain": [-0.35, 1], "nice": false, "zero": false}, "axis": {"values": [-0.35, -0.15, 0.05, 0.25, 0.45, 0.65, 0.85], "format": ".2f", "title": "Concentración (Log)"}}}},
{"encoding": {"y": {"field": "y", "type": "quantitative", "scale": {"domain": [8.08, 8.092], "nice": false, "zero": false}, "axis": {"values": [8.08,8.082,8.084,8.086,8.088,8.09,8.092], "format": ".3~f", "labelOverlap": false, "title": "Mortalidad (Probit)", "titlePadding": 9}}},
"layer": [
{"data": {"name": "yt"}, "transform": [{"filter": "datum.p == 'H'"}], "mark": {"type": "tick", "orient": "horizontal", "size": 6, "thickness": 1, "color": "#222"}, "encoding": {"x": {"datum": 0, "type": "quantitative"}}},
{"data": {"name": "lines"}, "transform": [{"filter": "datum.p == 'H'"}], "mark": {"type": "line", "color": "#222", "strokeWidth": 1, "clip": true}, "encoding": {"x": {"field": "x", "type": "quantitative"}, "detail": {"field": "s", "type": "nominal"}}},
{"data": {"name": "pts"}, "transform": [{"filter": "datum.p == 'H'"}], "mark": {"type": "point", "filled": false, "color": "#111", "opacity": 1, "size": 75, "strokeWidth": 1}, "encoding": {"x": {"field": "x", "type": "quantitative"}, "shape": {"field": "s", "type": "nominal", "scale": {"domain": ["EE-DMSO", "EE", "EA"], "range": ["triangle-up", "square", "diamond"]}, "legend": null}}},
{"data": {"name": "eq"}, "transform": [{"filter": "datum.p == 'H'"}], "mark": {"type": "text", "align": "left", "baseline": "middle", "fontSize": 7, "color": "#222"}, "encoding": {"x": {"field": "x", "type": "quantitative"}, "text": {"field": "t"}}},
{"data": {"name": "leg"}, "transform": [{"filter": "datum.p == 'H'"}], "mark": {"type": "point", "filled": false, "color": "#111", "opacity": 1, "size": 75, "strokeWidth": 1}, "encoding": {"x": {"field": "xs", "type": "quantitative"}, "shape": {"field": "s", "type": "nominal", "scale": {"domain": ["EE-DMSO", "EE", "EA"], "range": ["triangle-up", "square", "diamond"]}, "legend": null}}},
{"data": {"name": "leg"}, "transform": [{"filter": "datum.p == 'H'"}], "mark": {"type": "rule", "color": "#222", "strokeWidth": 1}, "encoding": {"x": {"field": "x1", "type": "quantitative"}, "x2": {"field": "x2"}, "strokeDash": {"field": "s", "type": "nominal", "scale": {"domain": ["EE-DMSO", "EE", "EA"], "range": [[1, 0], [7, 4], [3, 2]]}, "legend": null}}},
{"data": {"name": "leg"}, "transform": [{"filter": "datum.p == 'H'"}], "mark": {"type": "text", "align": "left", "baseline": "middle", "fontSize": 7.5, "fontWeight": "bold", "color": "#222"}, "encoding": {"x": {"field": "xt", "type": "quantitative"}, "text": {"field": "s"}}},
{"data": {"name": "yt"}, "transform": [{"filter": "datum.p == 'H'"}, {"aggregate": [{"op": "min", "field": "y", "as": "y"}]}], "mark": {"type": "text", "fontSize": 16, "align": "right", "baseline": "alphabetic", "dx": -22, "dy": -1, "color": "#222"}, "encoding": {"x": {"datum": -0.35, "type": "quantitative"}, "text": {"value": "(H)"}}}
]},
{"data": {"values": [{}]}, "mark": {"type": "rule", "opacity": 0}, "encoding": {"y": {"datum": 99.4, "type": "quantitative", "scale": {"domain": [98.9, 99.9], "nice": false, "zero": false}, "axis": {"orient": "right", "values": [98.9,99,99.1,99.2,99.3,99.4,99.5,99.6,99.7,99.8,99.9], "format": ".1~f", "labelOverlap": false, "title": "Mortalidad (Porcentaje)", "titleAngle": 270, "titleBaseline": "top", "titlePadding": 8.5}}}}
]
}
],
"config": {
"font": "Liberation Sans",
"view": {"stroke": "#222", "strokeWidth": 1},
"axis": {"labelFontSize": 7, "labelColor": "#222", "domainColor": "#222", "tickColor": "#222", "tickSize": 3, "labelPadding": 2, "grid": false, "titleFontSize": 9.5, "titleFontWeight": "normal", "titleColor": "#5b4b45", "labelFlush": false, "labelOverlap": false},
"axisX": {"titleColor": "#333", "titleFontSize": 11, "titlePadding": 10},
"title": {"fontSize": 17, "fontWeight": "normal", "color": "#222", "lineHeight": 19, "offset": 12, "frame": "group"}
}
}
